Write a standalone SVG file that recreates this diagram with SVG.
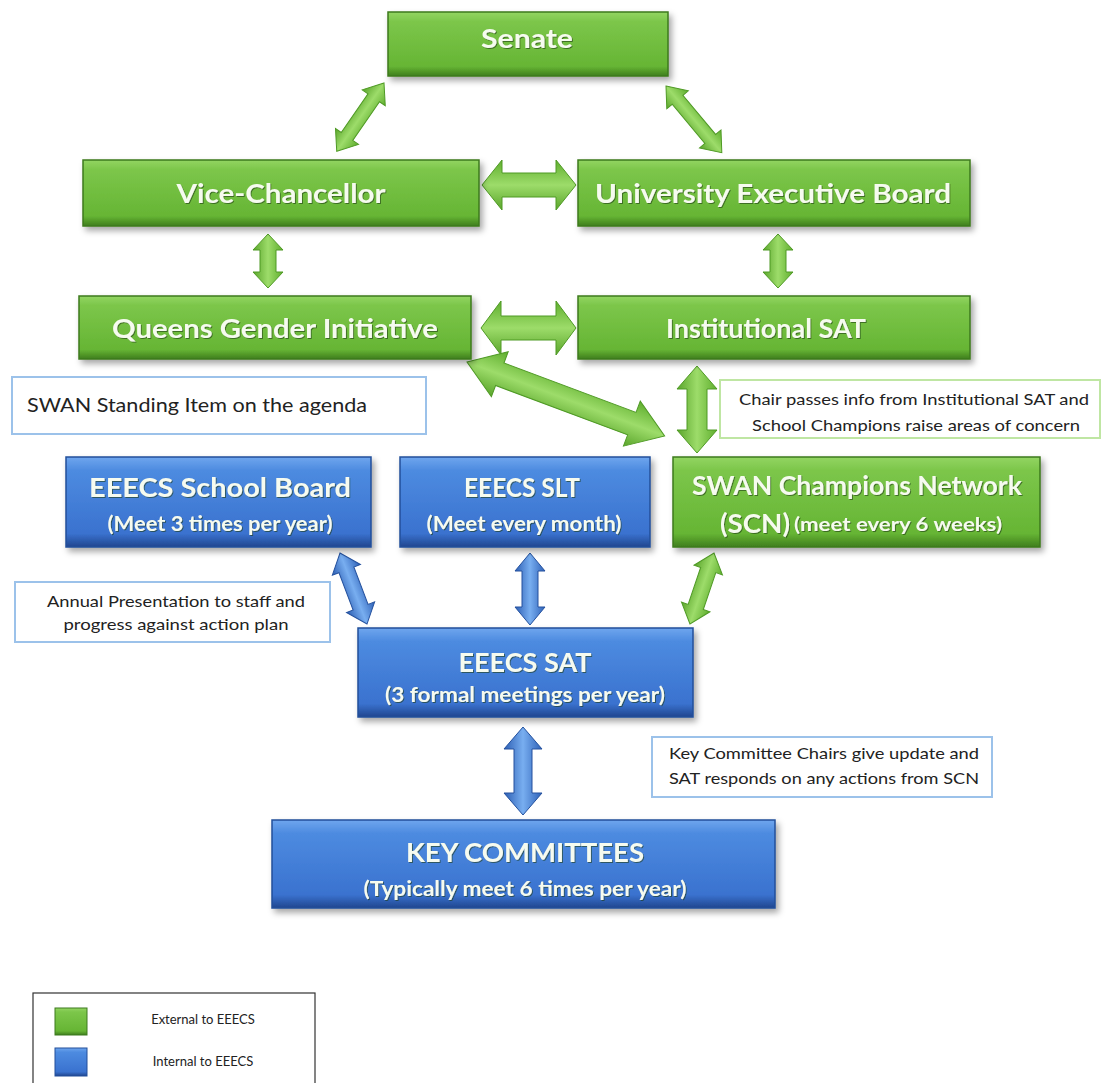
<svg xmlns="http://www.w3.org/2000/svg" width="1107" height="1083" viewBox="0 0 1107 1083">
<defs>
<linearGradient id="gG" x1="0" y1="0" x2="0" y2="1">
<stop offset="0" stop-color="#93d562"/><stop offset="0.15" stop-color="#7cc64a"/><stop offset="0.85" stop-color="#66b534"/><stop offset="1" stop-color="#3f7e1d"/>
</linearGradient>
<linearGradient id="gB" x1="0" y1="0" x2="0" y2="1">
<stop offset="0" stop-color="#6fa6ee"/><stop offset="0.15" stop-color="#4d8be0"/><stop offset="0.85" stop-color="#3a72cf"/><stop offset="1" stop-color="#20468f"/>
</linearGradient>
<linearGradient id="aG" x1="0" y1="0" x2="0" y2="1">
<stop offset="0" stop-color="#5fae2e"/><stop offset="0.5" stop-color="#9ddc6a"/><stop offset="1" stop-color="#5aa52b"/>
</linearGradient>
<linearGradient id="aB" x1="0" y1="0" x2="0" y2="1">
<stop offset="0" stop-color="#2f62b8"/><stop offset="0.5" stop-color="#78aef0"/><stop offset="1" stop-color="#2c5eb3"/>
</linearGradient>
<filter id="sh" x="-10%" y="-20%" width="125%" height="150%">
<feDropShadow dx="3" dy="4" stdDeviation="3" flood-color="#000" flood-opacity="0.35"/>
</filter>
<filter id="ts" x="-5%" y="-20%" width="110%" height="150%">
<feDropShadow dx="1" dy="1" stdDeviation="0.6" flood-color="#1d3a0c" flood-opacity="0.6"/>
</filter>
</defs>
<style>
.g{fill:url(#gG);stroke:#3d7a1e;stroke-width:1.5;filter:url(#sh)}
.b{fill:url(#gB);stroke:#234f9a;stroke-width:1.5;filter:url(#sh)}
.t{font-family:Lato,"Open Sans","Liberation Sans",sans-serif;font-weight:bold;fill:#f6fbef;text-anchor:middle;filter:url(#ts)}
.n{font-family:Lato,"Open Sans","Liberation Sans",sans-serif;fill:#222;text-anchor:middle}
.ag{fill:url(#aG);stroke:#4f9a25;stroke-width:1}
.ab{fill:url(#aB);stroke:#24519e;stroke-width:1}
.nb{fill:#fff;stroke:#9cc2ea;stroke-width:2}
.ngr{fill:#fff;stroke:#bfe6a3;stroke-width:2}
</style>
<rect width="1107" height="1083" fill="#fff"/>

<g id="connectors">
<path class="ag" transform="translate(384,83) rotate(124.7)" d="M0,0 L18,-14 L18,-7 L65,-7 L65,-14 L83,0 L65,14 L65,7 L18,7 L18,14 Z"/>
<path class="ag" transform="translate(666,86) rotate(50.1)" d="M0,0 L18,-14 L18,-7 L69,-7 L69,-14 L87,0 L69,14 L69,7 L18,7 L18,14 Z"/>
<path class="ag" transform="translate(482,185)" d="M0,0 L20,-25 L20,-12 L74,-12 L74,-25 L94,0 L74,25 L74,12 L20,12 L20,25 Z"/>
<path class="ag" transform="translate(268,234) rotate(90)" d="M0,0 L16,-15 L16,-8 L38,-8 L38,-15 L54,0 L38,15 L38,8 L16,8 L16,15 Z"/>
<path class="ag" transform="translate(778,234) rotate(90)" d="M0,0 L16,-15 L16,-8 L38,-8 L38,-15 L54,0 L38,15 L38,8 L16,8 L16,15 Z"/>
<path class="ag" transform="translate(481,328)" d="M0,0 L20,-27 L20,-12 L75,-12 L75,-27 L95,0 L75,27 L75,12 L20,12 L20,27 Z"/>
<path class="ag" transform="translate(467,362) rotate(20.5)" d="M0,0 L35,-24 L35,-12 L176,-12 L176,-24 L211,0 L176,24 L176,12 L35,12 L35,24 Z"/>
<path class="ag" transform="translate(697,366) rotate(90)" d="M0,0 L23,-20 L23,-10 L64,-10 L64,-20 L87,0 L64,20 L64,10 L23,10 L23,20 Z"/>
<path class="ab" transform="translate(340,553) rotate(69.2)" d="M0,0 L18,-15 L18,-8 L58,-8 L58,-15 L76,0 L58,15 L58,8 L18,8 L18,15 Z"/>
<path class="ab" transform="translate(530,553) rotate(90)" d="M0,0 L18,-15 L18,-8 L54,-8 L54,-15 L72,0 L54,15 L54,8 L18,8 L18,15 Z"/>
<path class="ag" transform="translate(714,553) rotate(108.7)" d="M0,0 L18,-15 L18,-8 L57,-8 L57,-15 L75,0 L57,15 L57,8 L18,8 L18,15 Z"/>
<path class="ab" transform="translate(523,727) rotate(90)" d="M0,0 L22,-19 L22,-9 L66,-9 L66,-19 L88,0 L66,19 L66,9 L22,9 L22,19 Z"/>
</g>

<g id="senate"><rect class="g" x="388" y="12" width="280" height="64"/><text class="t" x="527" y="48" font-size="27" textLength="92" lengthAdjust="spacingAndGlyphs">Senate</text></g>
<g id="vice-chancellor"><rect class="g" x="83" y="160" width="396" height="66"/><text class="t" x="281" y="203" font-size="27" textLength="209" lengthAdjust="spacingAndGlyphs">Vice-Chancellor</text></g>
<g id="ueb"><rect class="g" x="578" y="160" width="392" height="66"/><text class="t" x="773" y="203" font-size="27" textLength="356" lengthAdjust="spacingAndGlyphs">University Executive Board</text></g>
<g id="qgi"><rect class="g" x="79" y="296" width="392" height="63"/><text class="t" x="275" y="338" font-size="27" textLength="326" lengthAdjust="spacingAndGlyphs">Queens Gender Initiative</text></g>
<g id="isat"><rect class="g" x="578" y="296" width="392" height="63"/><text class="t" x="766" y="338" font-size="27" textLength="200" lengthAdjust="spacingAndGlyphs">Institutional SAT</text></g>

<g id="note-swan"><rect class="nb" x="12" y="377" width="414" height="57"/><text class="n" x="27" y="412" font-size="19" style="text-anchor:start" textLength="340" lengthAdjust="spacingAndGlyphs">SWAN Standing Item on the agenda</text></g>
<g id="note-chair"><rect class="ngr" x="720" y="380" width="380" height="58"/>
<text class="n" x="914" y="405" font-size="15" textLength="350" lengthAdjust="spacingAndGlyphs">Chair passes info from Institutional SAT and</text>
<text class="n" x="916" y="431" font-size="15" textLength="328" lengthAdjust="spacingAndGlyphs">School Champions raise areas of concern</text></g>

<g id="school-board"><rect class="b" x="66" y="457" width="305" height="90"/>
<text class="t" x="220" y="497" font-size="27" textLength="262" lengthAdjust="spacingAndGlyphs">EEECS School Board</text>
<text class="t" x="220" y="531" font-size="20" textLength="225" lengthAdjust="spacingAndGlyphs">(Meet 3 times per year)</text></g>
<g id="slt"><rect class="b" x="400" y="457" width="250" height="90"/>
<text class="t" x="522" y="497" font-size="27" textLength="116" lengthAdjust="spacingAndGlyphs">EEECS SLT</text>
<text class="t" x="524" y="531" font-size="20" textLength="195" lengthAdjust="spacingAndGlyphs">(Meet every month)</text></g>
<g id="scn"><rect class="g" x="673" y="457" width="367" height="90"/>
<text class="t" x="857" y="495" font-size="27" textLength="330" lengthAdjust="spacingAndGlyphs">SWAN Champions Network</text>
<text class="t" x="720" y="533" font-size="27" style="text-anchor:start" textLength="70" lengthAdjust="spacingAndGlyphs">(SCN)</text>
<text class="t" x="794" y="531" font-size="18" style="text-anchor:start" textLength="208" lengthAdjust="spacingAndGlyphs">(meet every 6 weeks)</text></g>

<g id="note-annual"><rect class="nb" x="15" y="582" width="315" height="60"/>
<text class="n" x="176" y="607" font-size="15" textLength="258" lengthAdjust="spacingAndGlyphs">Annual Presentation to staff and</text>
<text class="n" x="176" y="630" font-size="15" textLength="225" lengthAdjust="spacingAndGlyphs">progress against action plan</text></g>

<g id="eeecs-sat"><rect class="b" x="358" y="628" width="335" height="89"/>
<text class="t" x="525" y="672" font-size="27" textLength="133" lengthAdjust="spacingAndGlyphs">EEECS SAT</text>
<text class="t" x="525" y="702" font-size="20" textLength="280" lengthAdjust="spacingAndGlyphs">(3 formal meetings per year)</text></g>

<g id="note-key"><rect class="nb" x="652" y="737" width="340" height="60"/>
<text class="n" x="824" y="759" font-size="15" textLength="310" lengthAdjust="spacingAndGlyphs">Key Committee Chairs give update and</text>
<text class="n" x="824" y="784" font-size="15" textLength="310" lengthAdjust="spacingAndGlyphs">SAT responds on any actions from SCN</text></g>

<g id="key-committees"><rect class="b" x="272" y="820" width="503" height="88"/>
<text class="t" x="525" y="862" font-size="27" textLength="238" lengthAdjust="spacingAndGlyphs">KEY COMMITTEES</text>
<text class="t" x="525" y="896" font-size="21" textLength="323" lengthAdjust="spacingAndGlyphs">(Typically meet 6 times per year)</text></g>

<g id="legend">
<rect x="33" y="993" width="282" height="100" fill="#fff" stroke="#333" stroke-width="1.2"/>
<rect x="55" y="1008" width="32" height="27" fill="url(#gG)" stroke="#3d7a1e"/>
<text class="n" x="203" y="1024" font-size="13">External to EEECS</text>
<rect x="55" y="1048" width="32" height="28" fill="url(#gB)" stroke="#234f9a"/>
<text class="n" x="203" y="1066" font-size="13">Internal to EEECS</text>
</g>
</svg>
